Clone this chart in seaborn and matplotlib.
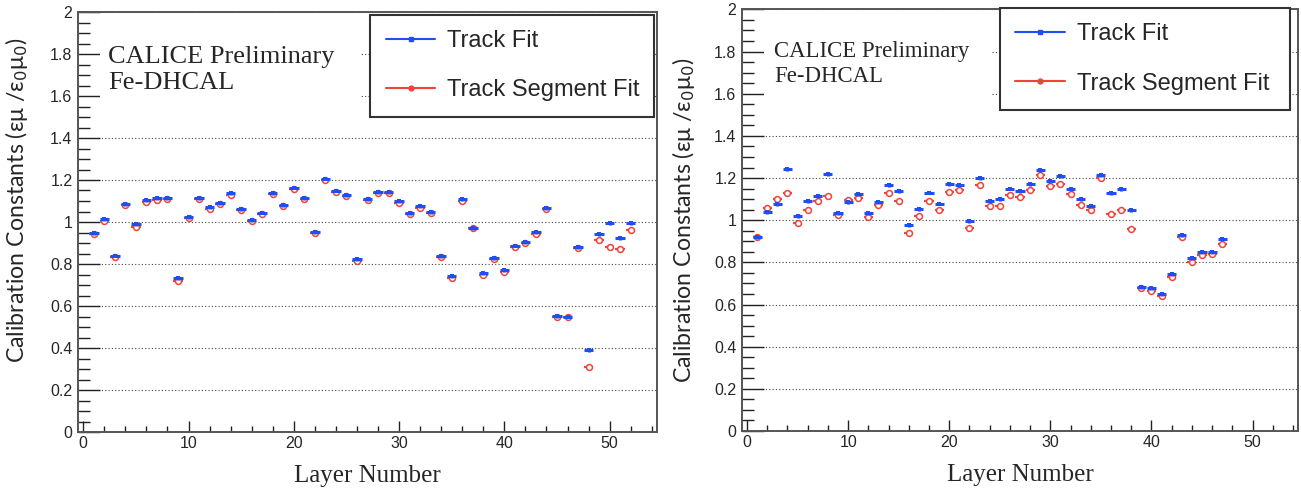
import matplotlib
matplotlib.use("Agg")
import matplotlib.pyplot as plt
from matplotlib.lines import Line2D
from matplotlib.patches import Rectangle
from matplotlib.ticker import MultipleLocator
import numpy as np
import pandas as pd
import seaborn as sns

# values, one per layer (layers start at 1)
left_track_fit = [0.948, 1.012, 0.840, 1.087, 0.990, 1.105, 1.114, 1.114, 0.733, 1.025,
                  1.114, 1.071, 1.092, 1.137, 1.063, 1.008, 1.045, 1.138, 1.082, 1.164,
                  1.114, 0.954, 1.207, 1.150, 1.130, 0.822, 1.110, 1.141, 1.141, 1.098,
                  1.042, 1.074, 1.047, 0.837, 0.741, 1.108, 0.972, 0.756, 0.829, 0.773,
                  0.888, 0.905, 0.952, 1.068, 0.553, 0.550, 0.882, 0.390, 0.942, 0.993,
                  0.923, 0.993]
left_segment_fit = [0.943, 1.004, 0.834, 1.082, 0.978, 1.094, 1.107, 1.110, 0.721, 1.018,
                    1.109, 1.064, 1.087, 1.130, 1.058, 1.003, 1.040, 1.133, 1.075, 1.158,
                    1.109, 0.948, 1.202, 1.145, 1.124, 0.812, 1.104, 1.136, 1.137, 1.092,
                    1.036, 1.068, 1.041, 0.832, 0.735, 1.102, 0.970, 0.748, 0.823, 0.764,
                    0.880, 0.898, 0.945, 1.062, 0.548, 0.547, 0.877, 0.310, 0.913, 0.880,
                    0.870, 0.964]
right_track_fit = [0.922, 1.039, 1.078, 1.241, 1.020, 1.090, 1.113, 1.219, 1.034, 1.085,
                   1.123, 1.034, 1.088, 1.165, 1.140, 0.976, 1.055, 1.131, 1.079, 1.170,
                   1.166, 0.995, 1.202, 1.091, 1.101, 1.150, 1.140, 1.173, 1.237, 1.185,
                   1.208, 1.148, 1.099, 1.069, 1.214, 1.127, 1.148, 1.047, 0.682, 0.678,
                   0.650, 0.743, 0.928, 0.822, 0.848, 0.848, 0.912]
right_segment_fit = [0.920, 1.058, 1.102, 1.129, 0.987, 1.050, 1.090, 1.116, 1.025, 1.096,
                     1.107, 1.014, 1.072, 1.129, 1.090, 0.939, 1.018, 1.090, 1.049, 1.134,
                     1.142, 0.962, 1.166, 1.067, 1.067, 1.120, 1.112, 1.142, 1.214, 1.161,
                     1.170, 1.126, 1.072, 1.048, 1.199, 1.029, 1.050, 0.958, 0.677, 0.664,
                     0.640, 0.729, 0.919, 0.803, 0.837, 0.840, 0.887]

series_labels = ["Track Fit", "Track Segment Fit"]
y_ticks = [0, 0.2, 0.4, 0.6, 0.8, 1.0, 1.2, 1.4, 1.6, 1.8, 2.0]
y_tick_labels = ["0", "0.2", "0.4", "0.6", "0.8", "1", "1.2", "1.4", "1.6", "1.8", "2"]
x_ticks = [0, 10, 20, 30, 40, 50]
tag_text = "CALICE Preliminary\nFe-DHCAL"
x_title = "Layer Number"
y_title = "Calibration Constants (εμ /ε$_0$μ$_0$)"

blue = "#1f4ef5"
red = "#f0433a"
frame = "#555555"

sns.set_theme(style="ticks")
plt.rcParams["font.family"] = ["Liberation Sans", "DejaVu Sans"]


def draw_panel(ax, track, segment, tag_pos, tag_size, tag_box, legend_box, ylab_pos):
    df = pd.DataFrame({"layer": np.arange(1, len(track) + 1),
                       "track": track, "segment": segment})

    # track segment fit: open red circles with horizontal bars
    ax.errorbar(df.layer, df.segment, xerr=0.45, fmt="none", ecolor=red,
                elinewidth=1.6, zorder=3)
    sns.scatterplot(data=df, x="layer", y="segment", ax=ax, marker="o", s=18,
                    color="white", edgecolor=red, linewidth=1.1, zorder=4, legend=False)
    # track fit: small blue squares with bars
    ax.errorbar(df.layer, df.track, xerr=0.45, yerr=0.009, fmt="none", ecolor=blue,
                elinewidth=2.2, zorder=5)
    sns.scatterplot(data=df, x="layer", y="track", ax=ax, marker="s", s=10,
                    color=blue, edgecolor=blue, linewidth=0, zorder=6, legend=False)

    ax.set_xlim(-0.5, 54.5)
    ax.set_ylim(0, 2)
    ax.set_yticks(y_ticks, y_tick_labels)
    ax.set_xticks(x_ticks, [str(t) for t in x_ticks])
    ax.yaxis.set_minor_locator(MultipleLocator(0.05))
    ax.xaxis.set_minor_locator(MultipleLocator(2))
    ax.tick_params(axis="y", which="major", direction="in", length=16, width=1,
                   color="#222222", labelsize=11.5, pad=4)
    ax.tick_params(axis="y", which="minor", direction="in", length=8.5, width=1,
                   color="#222222")
    ax.tick_params(axis="x", which="major", direction="in", length=8, width=1,
                   color="#222222", labelsize=11.5, pad=3)
    ax.tick_params(axis="x", which="minor", direction="in", length=4.5, width=1,
                   color="#222222")
    for s in ax.spines.values():
        s.set_color(frame)
        s.set_linewidth(1.4)

    ax.set_axisbelow(True)
    ax.grid(axis="y", which="major", linestyle=(0, (1, 2)), color="#444444", linewidth=0.8)

    # white label pad behind the tag, hiding the grid like the original
    ax.add_patch(Rectangle((tag_box[0], tag_box[1]), tag_box[2], tag_box[3],
                           transform=ax.transAxes, facecolor="white",
                           edgecolor="none", zorder=2))
    ax.text(tag_pos[0], tag_pos[1], tag_text, transform=ax.transAxes,
            family="Liberation Serif", size=tag_size, ha="left", va="top",
            linespacing=1.25, zorder=7)

    handles = [Line2D([0], [0], color=blue, lw=1.5, marker="s", ms=3),
               Line2D([0], [0], color=red, lw=1.5, marker="o", ms=3.5)]
    leg = ax.legend(handles, series_labels, loc="upper left", bbox_to_anchor=legend_box,
                    mode="expand", fontsize=17, frameon=True, fancybox=False,
                    edgecolor="#333333", framealpha=1, borderpad=0.65, labelspacing=1.15,
                    handlelength=2.1, handletextpad=0.5, borderaxespad=0)
    leg.get_frame().set_linewidth(1.5)
    leg.set_zorder(10)

    ax.set_xlabel(x_title, family="Liberation Serif", size=18)
    ax.xaxis.set_label_coords(0.5, -0.078)
    ax.set_ylabel(y_title, loc="top", family="Lato", size=16.7)
    ax.yaxis.set_label_coords(ylab_pos[0], ylab_pos[1])


fig = plt.figure(figsize=(13.01, 4.91), dpi=100)
ax1 = fig.add_axes([78 / 1301, 1 - 432 / 491, 579 / 1301, 420 / 491])
ax2 = fig.add_axes([742 / 1301, 1 - 431 / 491, 556 / 1301, 421.6 / 491])

draw_panel(ax1, left_track_fit, left_segment_fit, (0.052, 0.92), 19,
           (0.038, 0.71, 0.45, 0.28), (0.505, 0.755, 0.49, 0.238), (-0.083, 0.94))
draw_panel(ax2, right_track_fit, right_segment_fit, (0.058, 0.925), 16.4,
           (0.04, 0.71, 0.41, 0.28), (0.464, 0.77, 0.522, 0.233), (-0.081, 0.885))

fig.savefig("out.png", dpi=100)
